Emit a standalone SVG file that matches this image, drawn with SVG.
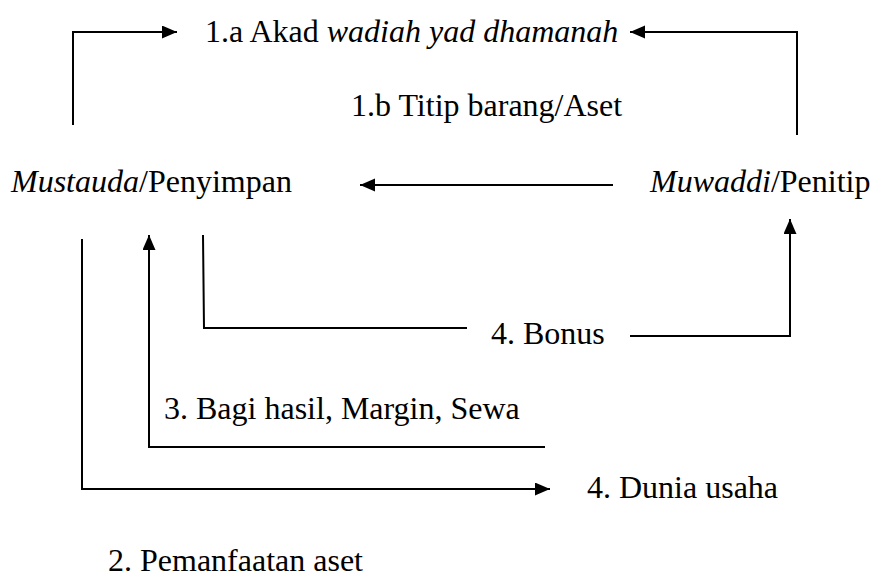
<svg xmlns="http://www.w3.org/2000/svg" width="875" height="573" viewBox="0 0 875 573">
<style>
text{font-family:"Liberation Serif","Times New Roman",serif;font-size:32px;fill:#000}
.i{font-style:italic}
.c{fill:none;stroke:#000;stroke-width:2}
</style>
<defs>
<marker id="ah" markerUnits="userSpaceOnUse" markerWidth="16" markerHeight="14" refX="15" refY="6.5" orient="auto">
<path d="M0,0 L15,6.5 L0,13 z" fill="#000"/>
</marker>
</defs>
<rect width="875" height="573" fill="#fff"/>
<g id="connectors">
<polyline class="c" points="73,125 73,32 177,32" marker-end="url(#ah)"/>
<polyline class="c" points="797,135 797,32 630,32" marker-end="url(#ah)"/>
<line class="c" x1="613" y1="185" x2="360" y2="185" marker-end="url(#ah)"/>
<polyline class="c" points="203,235 204,328 467,328"/>
<polyline class="c" points="630,336 790,336 790,219" marker-end="url(#ah)"/>
<polyline class="c" points="545,447 149,447 149,235" marker-end="url(#ah)"/>
<polyline class="c" points="82,239 82,489 550,489" marker-end="url(#ah)"/>
</g>
<g id="akad"><text x="205" y="42">1.a Akad <tspan class="i">wadiah yad dhamanah</tspan></text></g>
<g id="titip"><text x="351" y="116">1.b Titip barang/Aset</text></g>
<g id="mustauda"><text x="11" y="192"><tspan class="i">Mustauda</tspan>/Penyimpan</text></g>
<g id="muwaddi"><text x="650" y="192"><tspan class="i">Muwaddi</tspan>/Penitip</text></g>
<g id="bonus"><text x="491" y="344">4. Bonus</text></g>
<g id="bagihasil"><text x="164" y="419">3. Bagi hasil, Margin, Sewa</text></g>
<g id="dunia"><text x="587" y="498">4. Dunia usaha</text></g>
<g id="pemanfaatan"><text x="108" y="571">2. Pemanfaatan aset</text></g>
</svg>
